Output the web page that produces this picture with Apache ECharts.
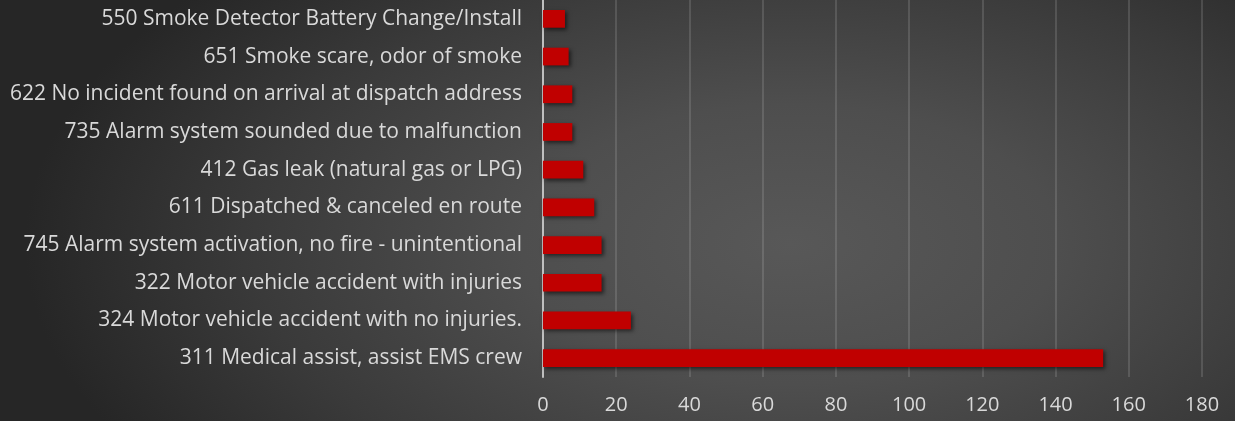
<!DOCTYPE html>
<html>
<head>
<meta charset="utf-8">
<script src="https://cdn.jsdelivr.net/npm/echarts@6/dist/echarts.min.js"></script>
<style>
  html, body { margin: 0; padding: 0; background: #262626; }
  #chart {
    width: 1235px; height: 421px;
    background: radial-gradient(ellipse 62% 95% at 64% 58%, #585858 0%, #4e4e4e 35%, #3a3a3a 70%, #262626 100%);
  }
</style>
</head>
<body>
<div id="chart"></div>
<script>
// Incident types, listed bottom to top as the category axis draws them
const categories = [
  '311 Medical assist, assist EMS crew',
  '324 Motor vehicle accident with no injuries.',
  '322 Motor vehicle accident with injuries',
  '745 Alarm system activation, no fire - unintentional',
  '611 Dispatched & canceled en route',
  '412 Gas leak (natural gas or LPG)',
  '735 Alarm system sounded due to malfunction',
  '622 No incident found on arrival at dispatch address',
  '651 Smoke scare, odor of smoke',
  '550 Smoke Detector Battery Change/Install'
];
const incidentCounts = [153, 24, 16, 16, 14, 11, 8, 8, 7, 6];
const tickValues = [0, 20, 40, 60, 80, 100, 120, 140, 160, 180];

const chart = echarts.init(document.getElementById('chart'));
chart.setOption({
  backgroundColor: 'transparent',
  animation: false,
  grid: { left: 543, right: 33, top: 0, bottom: 44, containLabel: false },
  xAxis: {
    type: 'value',
    min: tickValues[0],
    max: tickValues[tickValues.length - 1],
    interval: tickValues[1] - tickValues[0],
    axisLine: { show: false },
    axisTick: { show: false },
    splitLine: { show: true, lineStyle: { color: 'rgba(220,220,220,0.16)', width: 2 } },
    axisLabel: { color: '#d9d9d9', fontFamily: 'Open Sans', fontSize: 20, margin: 18 }
  },
  yAxis: {
    type: 'category',
    data: categories,
    axisLine: { show: true, lineStyle: { color: '#bfbfbf', width: 2 } },
    axisTick: { show: false },
    axisLabel: { color: '#d9d9d9', fontFamily: 'Open Sans', fontSize: 21, margin: 21 }
  },
  series: [{
    type: 'bar',
    data: incidentCounts,
    barCategoryGap: '53%',
    itemStyle: {
      color: '#c00000',
      shadowColor: 'rgba(0,0,0,0.55)',
      shadowBlur: 4,
      shadowOffsetX: 2,
      shadowOffsetY: 2
    }
  }]
});
</script>
</body>
</html>
